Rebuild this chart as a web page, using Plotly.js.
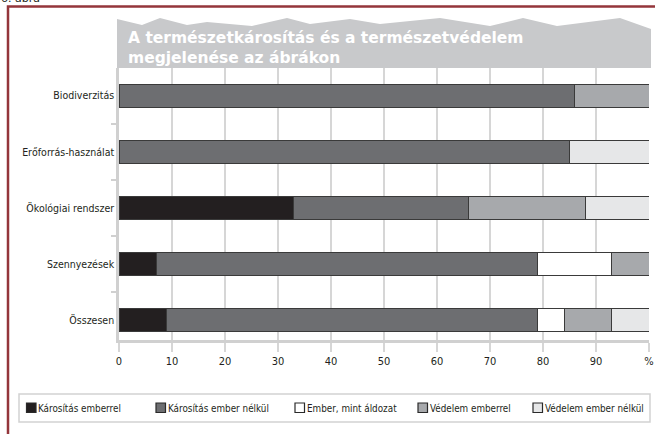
<!DOCTYPE html>
<html>
<head>
<meta charset="utf-8">
<script src="https://cdn.plot.ly/plotly-3.0.1.min.js"></script>
<style>
  html, body { margin: 0; padding: 0; background: #fff; }
  #chart { width: 655px; height: 434px; }
</style>
</head>
<body>
<div id="chart"></div>
<script>
// Categories, top to bottom
const categories = ['Biodiverzitás', 'Erőforrás-használat', 'Ökológiai rendszer', 'Szennyezések', 'Összesen'];

// Series names (legend order = stacking order)
const seriesNames = ['Károsítás emberrel', 'Károsítás ember nélkül', 'Ember, mint áldozat', 'Védelem emberrel', 'Védelem ember nélkül'];

// Shares in percent for each category
const karositasEmberrel     = [0, 0, 33, 7, 9];
const karositasEmberNelkul  = [86, 85, 33, 72, 70];
const emberMintAldozat      = [0, 0, 0, 14, 5];
const vedelemEmberrel       = [14, 0, 22, 7, 9];
const vedelemEmberNelkul    = [0, 15, 12, 0, 7];

// Axis ticks
const tickValues = [0, 10, 20, 30, 40, 50, 60, 70, 80, 90, 100];
const tickLabels = ['0', '10', '20', '30', '40', '50', '60', '70', '80', '90', '%'];

const seriesColors = ['#231f20', '#6d6e71', '#ffffff', '#a7a9ac', '#e6e7e8'];
const seriesValues = [karositasEmberrel, karositasEmberNelkul, emberMintAldozat, vedelemEmberrel, vedelemEmberNelkul];

// Plot frame in pixels, used to place decorations in paper coordinates
const W = 655, H = 434;
const PL = 119, PR = 649, PT = 68, PB = 340;
const px = x => (x - PL) / (PR - PL);
const py = y => (PB - y) / (PB - PT);

const labelFont = "'DejaVu Sans Condensed', 'Liberation Sans Narrow', sans-serif";

const traces = seriesValues.map((vals, i) => ({
  type: 'bar',
  orientation: 'h',
  name: seriesNames[i],
  x: vals,
  y: categories,
  marker: { color: seriesColors[i], line: { color: '#3a3a3a', width: 1 } },
  hovertemplate: '%{y}: %{x}%<extra>' + seriesNames[i] + '</extra>',
  showlegend: false
}));

// Grey banner with a jagged top edge behind the title
const bannerPts = [[117, 68], [117, 19], [142, 25], [160, 18], [187, 25], [207, 22], [252, 26],
  [287, 18], [310, 24], [350, 19], [380, 24], [440, 18], [490, 26], [523, 18], [557, 26],
  [620, 18], [651, 29], [651, 68]];
const bannerPath = 'M' + bannerPts.map(p => px(p[0]).toFixed(5) + ',' + py(p[1]).toFixed(5)).join(' L') + ' Z';

const shapes = [
  { type: 'path', xref: 'paper', yref: 'paper', path: bannerPath, fillcolor: '#c8c9cb', line: { width: 0 }, layer: 'below' },
  { type: 'rect', xref: 'paper', yref: 'paper', x0: px(8), x1: px(670), y0: py(6.5), y1: py(450),
    line: { color: '#94363b', width: 2.5 }, fillcolor: 'rgba(0,0,0,0)', layer: 'below' },
  { type: 'rect', xref: 'paper', yref: 'paper', x0: px(19), x1: px(650), y0: py(394), y1: py(422),
    line: { color: '#d2d2d2', width: 1.5 }, fillcolor: '#ffffff', layer: 'below' }
];

// Legend row drawn as squares and labels
const legendLeft = [26.5, 156, 295, 418, 533];
const annotations = [];
seriesNames.forEach((name, i) => {
  const x0 = legendLeft[i];
  shapes.push({ type: 'rect', xref: 'paper', yref: 'paper', x0: px(x0), x1: px(x0 + 9.5), y0: py(403), y1: py(412.5),
    fillcolor: seriesColors[i], line: { color: '#2a2a2a', width: 1.2 } });
  annotations.push({ xref: 'paper', yref: 'paper', x: px(x0 + 10.5), y: py(408), xanchor: 'left', yanchor: 'middle',
    text: name, showarrow: false, borderpad: 0, font: { family: labelFont, size: 9.8, color: '#231f20' } });
});
annotations.push({ xref: 'paper', yref: 'paper', x: px(0), y: py(5.5), xanchor: 'left', yanchor: 'bottom',
  text: '6. ábra', showarrow: false, borderpad: 0, font: { family: 'DejaVu Sans', size: 11, color: '#231f20' } });

const layout = {
  width: W, height: H,
  margin: { l: PL, r: W - PR, t: PT, b: H - PB, pad: 0 },
  paper_bgcolor: '#ffffff',
  plot_bgcolor: '#ffffff',
  barmode: 'stack',
  bargap: 0.585,
  showlegend: false,
  title: {
    text: 'A természetkárosítás és a természetvédelem<br>megjelenése az ábrákon',
    xref: 'container', yref: 'container',
    x: 128 / W, xanchor: 'left',
    y: 1 - 42.5 / H, yanchor: 'top',
    pad: { t: 0, b: 0, l: 0, r: 0 },
    font: { family: 'DejaVu Sans', size: 15.5, weight: 700, color: '#ffffff' }
  },
  xaxis: {
    range: [0, 100],
    tickmode: 'array', tickvals: tickValues, ticktext: tickLabels,
    showgrid: true, gridcolor: '#d6d6d6', gridwidth: 2,
    ticks: 'outside', ticklen: 9, tickwidth: 2, tickcolor: '#d6d6d6',
    showline: true, linecolor: '#d0d0d0', linewidth: 2.5,
    zeroline: false,
    tickfont: { family: labelFont, size: 11, color: '#231f20' },
    fixedrange: true
  },
  yaxis: {
    type: 'category',
    range: [4.354, -0.494],
    tickson: 'boundaries',
    ticks: 'outside', ticklen: 5, tickwidth: 1.5, tickcolor: '#d0d0d0',
    showline: true, linecolor: '#d0d0d0', linewidth: 2.5,
    showgrid: false, zeroline: false,
    tickfont: { family: labelFont, size: 10.5, color: '#231f20' },
    fixedrange: true
  },
  shapes: shapes,
  annotations: annotations
};

Plotly.newPlot('chart', traces, layout, { displayModeBar: false });
</script>
</body>
</html>
